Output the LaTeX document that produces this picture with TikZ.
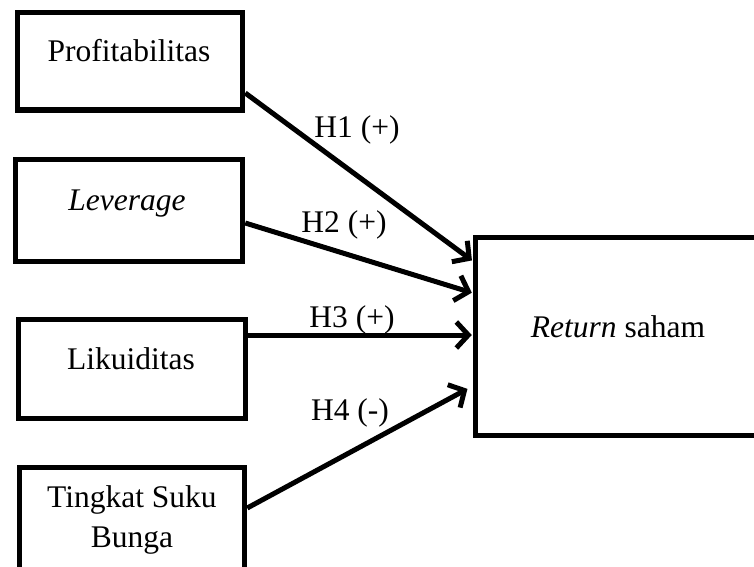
\documentclass[tikz,border=0pt]{standalone}
\usepackage{fontspec}
\setmainfont{Liberation Serif}
\usetikzlibrary{arrows.meta}
\begin{document}
\begin{tikzpicture}[x=1pt,y=-1pt,
  box/.style={draw=black, line width=5.5pt, rectangle, inner sep=0pt, fill=white},
  txt/.style={font=\fontsize{31.5}{40}\selectfont, inner sep=0pt, anchor=base, align=center},
  conn/.style={line width=5pt, -{Straight Barb[length=12pt,width=26pt,line width=5pt]}}]
\useasboundingbox (0,0) rectangle (754,566);
\clip (0,0) rectangle (754,566);
% boxes
\node[box, minimum width=225pt, minimum height=97.5pt] (b1) at (130,61.25) {};
\node[box, minimum width=227pt, minimum height=102pt] (b2) at (129,210.5) {};
\node[box, minimum width=227pt, minimum height=99pt] (b3) at (132,369) {};
\node[box, minimum width=225pt, minimum height=102.5pt] (b4) at (132,518.75) {};
\node[box, minimum width=294.5pt, minimum height=198pt] (rb) at (622.75,336.5) {};
% box texts
\node[txt] (t1) at (129,61) {Profitabilitas};
\node[txt] (t2) at (127,210) {\textit{Leverage}};
\node[txt] (t3) at (131,369) {Likuiditas};
\node[txt] (t4) at (132,547) {Tingkat Suku\\Bunga};
\node[txt] (t5) at (618,337) {\textit{Return} saham};
% connectors
\draw[conn, shorten >=1pt] (b1.east |- 0,93) -- (rb.west |- 0,261);
\draw[conn, shorten >=1pt] (b2.east |- 0,223) -- (rb.west |- 0,293);
\draw[conn, shorten >=1pt] (b3.east |- 0,335) -- (rb.west |- 0,335);
\draw[conn, shorten >=6pt] (b4.east |- 0,508) -- (rb.west |- 0,386);
% labels
\node[txt] (h1) at (357,137) {H1 (+)};
\node[txt] (h2) at (344,232) {H2 (+)};
\node[txt] (h3) at (352,327) {H3 (+)};
\node[txt] (h4) at (350,420) {H4 (-)};
\end{tikzpicture}
\end{document}
